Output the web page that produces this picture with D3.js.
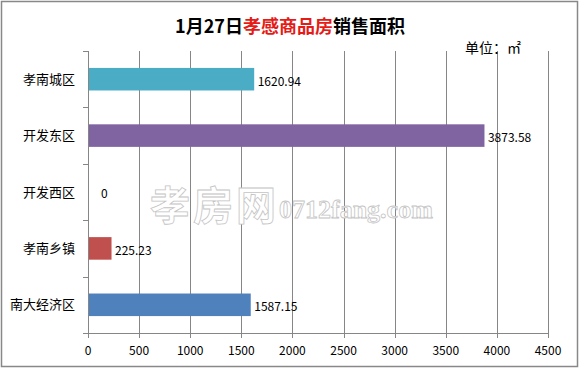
<!DOCTYPE html>
<html>
<head>
<meta charset="utf-8">
<script src="https://cdn.jsdelivr.net/npm/d3@7"></script>
<style>
  body { margin: 0; background: #fff; }
  text { font-family: "Noto Sans CJK SC", "Open Sans", sans-serif; }
</style>
</head>
<body>
<div id="chart"></div>
<script>
// 区域名称与销售面积
const districts = ['孝南城区', '开发东区', '开发西区', '孝南乡镇', '南大经济区'];
const areas = [1620.94, 3873.58, 0, 225.23, 1587.15];
const barColors = ['#4BACC6', '#8064A2', '#C0504D', '#C0504D', '#4F81BD'];
const xTicks = [0, 500, 1000, 1500, 2000, 2500, 3000, 3500, 4000, 4500];

const width = 579, height = 369;
const plot = { left: 88, right: 548, top: 51, bottom: 333 };

const svg = d3.select('#chart').append('svg')
    .attr('width', width)
    .attr('height', height);

// 外框
svg.append('rect')
    .attr('x', 1.5).attr('y', 1.5)
    .attr('width', width - 3).attr('height', height - 4)
    .attr('fill', '#fff')
    .attr('stroke', '#888').attr('stroke-width', 1.5);

// 比例尺
const x = d3.scaleLinear().domain([0, 4500]).range([plot.left, plot.right]);
const y = d3.scaleBand().domain(districts).range([plot.top, plot.bottom]).paddingInner(0.6).paddingOuter(0.3);

// 网格线
svg.append('g')
    .selectAll('line')
    .data(xTicks.slice(1))
    .enter()
    .append('line')
    .attr('x1', d => Math.round(x(d)) + 0.5)
    .attr('x2', d => Math.round(x(d)) + 0.5)
    .attr('y1', plot.top)
    .attr('y2', plot.bottom + 5)
    .attr('stroke', '#868686');

// 水印
const wm = svg.append('text')
    .attr('x', 150).attr('y', 220)
    .attr('fill', '#fff')
    .attr('stroke', '#c4c4c4')
    .attr('stroke-width', 0.8)
    .attr('font-weight', 'bold');
wm.append('tspan')
    .attr('font-size', 40)
    .attr('letter-spacing', 3)
    .text('孝房网');
wm.append('tspan')
    .attr('font-size', 26)
    .attr('font-family', '"Liberation Serif", serif')
    .attr('dy', -2)
    .text('0712fang.com');

// 条形
svg.append('g')
    .selectAll('rect')
    .data(districts)
    .enter()
    .append('rect')
    .attr('x', x(0) + 0.5)
    .attr('y', d => y(d))
    .attr('width', (d, i) => x(areas[i]) - x(0))
    .attr('height', y.bandwidth())
    .attr('fill', (d, i) => barColors[i]);

// 坐标轴
const axisColor = '#868686';
svg.append('line')
    .attr('x1', plot.left + 0.5).attr('x2', plot.left + 0.5)
    .attr('y1', plot.top).attr('y2', plot.bottom)
    .attr('stroke', axisColor);
svg.append('line')
    .attr('x1', plot.left).attr('x2', plot.right + 1)
    .attr('y1', plot.bottom + 0.5).attr('y2', plot.bottom + 0.5)
    .attr('stroke', axisColor);

// 左侧刻度
const step = (plot.bottom - plot.top) / districts.length;
svg.append('g')
    .selectAll('line')
    .data(d3.range(districts.length + 1))
    .enter()
    .append('line')
    .attr('x1', plot.left - 5).attr('x2', plot.left)
    .attr('y1', d => Math.round(plot.top + d * step) + 0.5)
    .attr('y2', d => Math.round(plot.top + d * step) + 0.5)
    .attr('stroke', axisColor);

// 底部刻度
svg.append('line')
    .attr('x1', plot.left + 0.5).attr('x2', plot.left + 0.5)
    .attr('y1', plot.bottom).attr('y2', plot.bottom + 5)
    .attr('stroke', axisColor);

svg.append('g')
    .selectAll('text')
    .data(xTicks)
    .enter()
    .append('text')
    .attr('x', d => x(d))
    .attr('y', 355)
    .attr('text-anchor', 'middle')
    .attr('font-size', 12)
    .text(d => d);

// 分类标签
svg.append('g')
    .selectAll('text')
    .data(districts)
    .enter()
    .append('text')
    .attr('x', 75)
    .attr('y', d => y(d) + y.bandwidth() / 2)
    .attr('dy', '0.36em')
    .attr('text-anchor', 'end')
    .attr('font-size', 13)
    .text(d => d);

// 数据标签
svg.append('g')
    .selectAll('text')
    .data(districts)
    .enter()
    .append('text')
    .attr('x', (d, i) => x(areas[i]) + (areas[i] === 0 ? 13 : 4))
    .attr('y', d => y(d) + y.bandwidth() / 2 + 2)
    .attr('dy', '0.36em')
    .attr('font-size', 12)
    .text((d, i) => areas[i]);

// 标题
const title = svg.append('text')
    .attr('x', 290).attr('y', 33)
    .attr('text-anchor', 'middle')
    .attr('font-size', 18)
    .attr('font-weight', 'bold');
title.append('tspan').attr('fill', '#000').text('1月27日');
title.append('tspan').attr('fill', '#e41b17').text('孝感商品房');
title.append('tspan').attr('fill', '#000').text('销售面积');

// 单位
svg.append('text')
    .attr('x', 465).attr('y', 53)
    .attr('font-size', 14)
    .text('单位：㎡');
</script>
</body>
</html>
